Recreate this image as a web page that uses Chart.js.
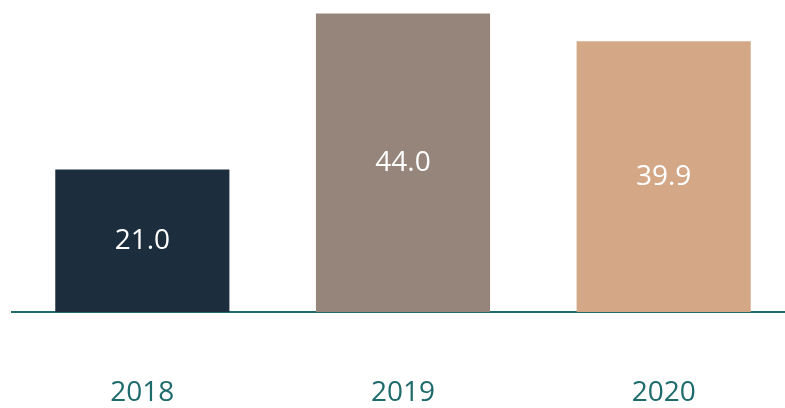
<!DOCTYPE html>
<html lang="en">
<head>
<meta charset="UTF-8">
<title>Bar Chart</title>
<script src="https://cdn.jsdelivr.net/npm/chart.js"></script>
<style>
    html, body { margin: 0; padding: 0; background: #fff; overflow: hidden; }
    #chart-container { width: 794px; height: 408px; }
</style>
</head>
<body>
<div id="chart-container">
    <canvas id="barChart"></canvas>
</div>
<script>
const years = ['2018', '2019', '2020'];
const values = [21.0, 44.0, 39.9];
const barColors = ['#1c2d3d', '#96857b', '#d4a886'];

// value label in the middle of each bar
const centerLabels = {
    id: 'centerLabels',
    afterDatasetsDraw(chart) {
        const ctx = chart.ctx;
        const meta = chart.getDatasetMeta(0);
        ctx.save();
        ctx.fillStyle = '#ffffff';
        ctx.font = '28px "Open Sans"';
        ctx.textAlign = 'center';
        ctx.textBaseline = 'middle';
        meta.data.forEach((bar, i) => {
            ctx.fillText(values[i].toFixed(1), bar.x, (bar.y + bar.base) / 2);
        });
        ctx.restore();
    }
};

new Chart(document.getElementById('barChart'), {
    type: 'bar',
    data: {
        labels: years,
        datasets: [{
            data: values,
            backgroundColor: barColors,
            barPercentage: 1,
            categoryPercentage: 0.668
        }]
    },
    options: {
        responsive: true,
        maintainAspectRatio: false,
        animation: false,
        layout: { padding: { left: 12, right: 0, top: 0, bottom: 0 } },
        plugins: { legend: { display: false }, tooltip: { enabled: false } },
        scales: {
            x: {
                grid: { display: false },
                border: { display: true, color: '#1f6b6c', width: 2 },
                ticks: {
                    color: '#1f6b6c',
                    font: { family: 'Open Sans', size: 28 },
                    padding: 56
                },
                afterFit(scale) { scale.height = 96; }
            },
            y: {
                display: false,
                min: 0,
                max: 46
            }
        }
    },
    plugins: [centerLabels]
});
</script>
</body>
</html>
